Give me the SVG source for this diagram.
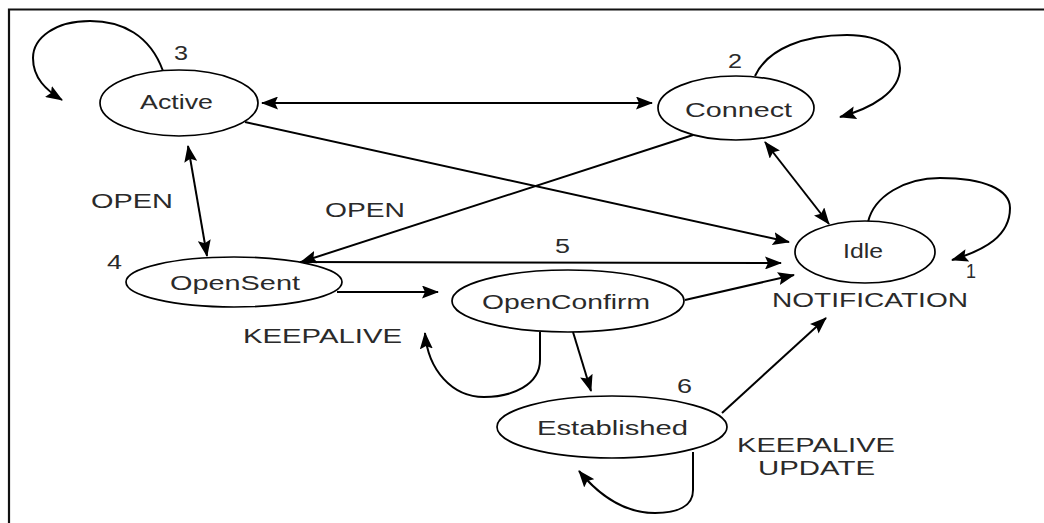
<svg xmlns="http://www.w3.org/2000/svg" width="1044" height="523" viewBox="0 0 1044 523">
  <style>
    .state { fill: #ffffff; stroke: #000000; stroke-width: 1.7; }
    .edge { fill: none; stroke: #000000; stroke-width: 2; }
    .lbl { font-family: "Liberation Sans", Arial, sans-serif; font-size: 20px; fill: #2a2a2a; }
    .frame { stroke: #111111; stroke-width: 2.2; fill: none; }
  </style>
  <defs>
    <marker id="arrow" viewBox="0 0 17 13" refX="16" refY="6.5" markerWidth="17" markerHeight="13" markerUnits="userSpaceOnUse" orient="auto-start-reverse">
      <path d="M0,0 L17,6.5 L0,13 L3,6.5 z" fill="#000000"/>
    </marker>
  </defs>

  <rect width="1044" height="523" fill="#ffffff"/>
  <!-- frame -->
  <path class="frame" d="M9,523 L9,9.5 L1044,9.5"/>

  <!-- transitions -->
  <g id="connectors">
    <line class="edge" x1="262" y1="103" x2="652" y2="103" marker-start="url(#arrow)" marker-end="url(#arrow)"/>
    <line class="edge" x1="245" y1="122" x2="789" y2="242" marker-end="url(#arrow)"/>
    <line class="edge" x1="765" y1="142" x2="829" y2="224" marker-start="url(#arrow)" marker-end="url(#arrow)"/>
    <line class="edge" x1="693" y1="135" x2="301" y2="262" marker-end="url(#arrow)"/>
    <line class="edge" x1="188" y1="146" x2="207" y2="256" marker-start="url(#arrow)" marker-end="url(#arrow)"/>
    <line class="edge" x1="300" y1="262" x2="781" y2="263" marker-end="url(#arrow)"/>
    <line class="edge" x1="337" y1="292" x2="438" y2="292" marker-end="url(#arrow)"/>
    <line class="edge" x1="685" y1="300" x2="794" y2="275" marker-end="url(#arrow)"/>
    <line class="edge" x1="573" y1="332" x2="591" y2="391" marker-end="url(#arrow)"/>
    <line class="edge" x1="722" y1="413" x2="826" y2="318" marker-end="url(#arrow)"/>
    <!-- self loops -->
    <path class="edge" d="M163,71 C150,35 122,21 90,21 C55,21 33,38 33,58 C33,78 46,90 62,100" marker-end="url(#arrow)"/>
    <path class="edge" d="M755,76 C768,48 805,35 847,35 C885,35 900,52 900,68 C900,92 872,108 840,117" marker-end="url(#arrow)"/>
    <path class="edge" d="M868,222 C874,196 905,178 940,178 C985,178 1010,190 1010,208 C1010,236 985,250 952,260" marker-end="url(#arrow)"/>
    <path class="edge" d="M540,332 L540,360 C540,385 512,397 484,397 C452,397 428,370 425,333" marker-end="url(#arrow)"/>
    <path class="edge" d="M693,452 L693,490 C693,506 678,513 655,513 C622,513 598,494 579,471" marker-end="url(#arrow)"/>
  </g>

  <g id="active">
    <ellipse class="state" cx="179" cy="103" rx="79" ry="33"/>
    <text class="lbl" x="140" y="108.5" textLength="73" lengthAdjust="spacingAndGlyphs">Active</text>
    <text class="lbl" x="174" y="60" textLength="14" lengthAdjust="spacingAndGlyphs">3</text>
  </g>

  <g id="connect">
    <ellipse class="state" cx="736" cy="108" rx="78" ry="32"/>
    <text class="lbl" x="685" y="116.5" textLength="107" lengthAdjust="spacingAndGlyphs">Connect</text>
    <text class="lbl" x="728" y="68" textLength="14" lengthAdjust="spacingAndGlyphs">2</text>
  </g>

  <g id="idle">
    <ellipse class="state" cx="865" cy="252" rx="70" ry="31"/>
    <text class="lbl" x="843" y="258" textLength="40" lengthAdjust="spacingAndGlyphs">Idle</text>
    <text class="lbl" x="966" y="278" textLength="10" lengthAdjust="spacingAndGlyphs">1</text>
  </g>

  <g id="opensent">
    <ellipse class="state" cx="234" cy="282" rx="108" ry="25"/>
    <text class="lbl" x="170" y="290" textLength="130" lengthAdjust="spacingAndGlyphs">OpenSent</text>
    <text class="lbl" x="107" y="269" textLength="15" lengthAdjust="spacingAndGlyphs">4</text>
  </g>

  <g id="openconfirm">
    <ellipse class="state" cx="568" cy="301" rx="116" ry="31"/>
    <text class="lbl" x="482" y="309" textLength="168" lengthAdjust="spacingAndGlyphs">OpenConfirm</text>
  </g>

  <g id="established">
    <ellipse class="state" cx="612" cy="427" rx="115" ry="31"/>
    <text class="lbl" x="537" y="435" textLength="151" lengthAdjust="spacingAndGlyphs">Established</text>
    <text class="lbl" x="677" y="393" textLength="15" lengthAdjust="spacingAndGlyphs">6</text>
  </g>

  <!-- transition labels -->
  <g id="labels">
    <text class="lbl" x="91" y="208" textLength="82" lengthAdjust="spacingAndGlyphs">OPEN</text>
    <text class="lbl" x="325" y="217" textLength="80" lengthAdjust="spacingAndGlyphs">OPEN</text>
    <text class="lbl" x="555" y="253" textLength="15" lengthAdjust="spacingAndGlyphs">5</text>
    <text class="lbl" x="772" y="307" textLength="196" lengthAdjust="spacingAndGlyphs">NOTIFICATION</text>
    <text class="lbl" x="243" y="343" textLength="159" lengthAdjust="spacingAndGlyphs">KEEPALIVE</text>
    <text class="lbl" x="737" y="452" textLength="158" lengthAdjust="spacingAndGlyphs">KEEPALIVE</text>
    <text class="lbl" x="758" y="475" textLength="117" lengthAdjust="spacingAndGlyphs">UPDATE</text>
  </g>
</svg>
